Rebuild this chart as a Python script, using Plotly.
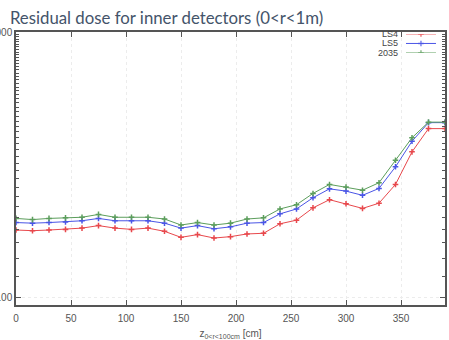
import plotly.graph_objects as go

# Longitudinal position along the beam line (cm)
z_cm = [0, 15, 30, 45, 60, 75, 90, 105, 120, 135, 150, 165, 180, 195,
        210, 225, 240, 255, 270, 285, 300, 315, 330, 345, 360, 375, 390]

# Residual dose for the three cooling scenarios
dose_ls4 = [179, 178, 179, 180, 182, 186, 182, 180, 182, 177, 168, 172, 167, 169,
            173, 174, 189, 195, 217, 233, 225, 216, 226, 266, 353, 432, 432]
dose_ls5 = [191, 190, 191, 192, 194, 198, 194, 194, 194, 190, 182, 186, 181, 184,
            190, 191, 206, 215, 237, 256, 251, 242, 257, 310, 387, 455, 455]
dose_2035 = [198, 196, 198, 199, 200, 205, 200, 200, 200, 197, 187, 191, 187, 190,
             197, 199, 215, 223, 246, 266, 260, 253, 270, 328, 399, 457, 457]

series_names = ["LS4", "LS5", "2035"]
series_colors = ["#e8484c", "#4a55e6", "#5c9e5c"]
series_values = [dose_ls4, dose_ls5, dose_2035]

x_ticks = [0, 50, 100, 150, 200, 250, 300, 350]
y_ticks = [100, 1000]
y_tick_text = ["100", "1000"]

fig = go.Figure()

for name, color, vals in zip(series_names, series_colors, series_values):
    fig.add_trace(go.Scatter(
        x=z_cm, y=vals, name=name, mode="lines+markers",
        line=dict(color=color, width=1),
        marker=dict(symbol="cross-thin", size=4, line=dict(color=color, width=1.5)),
        showlegend=False,
    ))

# Hand-built key: right-aligned labels with the sample line to their right
key_rows = [0.0, 0.5, 1.0]
key_label_x = 0.894
key_y_top, key_y_bottom = 0.993, 0.923
for row, name, color in zip(key_rows, series_names, series_colors):
    fig.add_trace(go.Scatter(
        x=[0, 0.5, 1], y=[row, row, row], mode="lines+markers",
        xaxis="x2", yaxis="y2", hoverinfo="skip", showlegend=False,
        line=dict(color=color, width=1),
        marker=dict(symbol="cross-thin", size=[0, 4, 0], line=dict(color=color, width=1.5)),
    ))
    fig.add_annotation(
        x=key_label_x, y=key_y_top - row * (key_y_top - key_y_bottom),
        xref="paper", yref="paper", text=name, showarrow=False,
        xanchor="right", yanchor="middle",
        font=dict(family="Liberation Sans, Arial", size=9, color="#444444"),
    )

axis_common = dict(
    showline=True, linecolor="#555555", linewidth=1.5, mirror="allticks",
    ticks="inside", ticklen=5, tickcolor="#555555", tickwidth=1,
    showgrid=True, gridcolor="#ececec", gridwidth=1, griddash="dot",
    zeroline=False, automargin=False,
    tickfont=dict(family="Liberation Sans, Arial", size=10, color="#555555"),
)

fig.update_layout(
    width=449, height=340,
    margin=dict(l=16, r=4, t=32, b=35),
    paper_bgcolor="white", plot_bgcolor="white",
    xaxis=dict(
        range=[0, 390], tickvals=x_ticks, ticklabelstandoff=3, **axis_common,
        title=dict(text="z<sub>0&lt;r&lt;100cm</sub> [cm]", standoff=12,
                   font=dict(family="Liberation Sans, Arial", size=10, color="#555555")),
    ),
    yaxis=dict(
        type="log", range=[1.97, 3.0], tickvals=y_ticks, ticktext=y_tick_text,
        minor=dict(ticks="inside", ticklen=3, tickcolor="#555555", showgrid=False),
        ticklabelstandoff=0,
        **axis_common,
    ),
    xaxis2=dict(domain=[0.909, 0.979], range=[0, 1], visible=False, fixedrange=True),
    yaxis2=dict(domain=[key_y_bottom, key_y_top], range=[1, 0], visible=False,
                fixedrange=True, anchor="x2"),
    title=dict(
        text="Residual dose for inner detectors (0&lt;r&lt;1m)",
        x=0.022, xanchor="left", y=0.948, yanchor="middle",
        font=dict(family="Lato, Open Sans", size=16.8, color="#44546a"),
    ),
)

fig.write_html("out.html")
